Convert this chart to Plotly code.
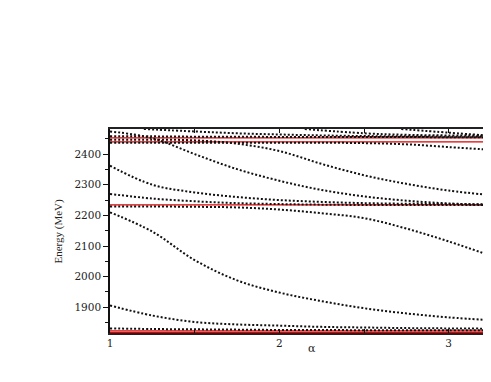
import plotly.graph_objects as go

# alpha grid
alpha = [1.0, 1.25, 1.5, 1.75, 2.0, 2.25, 2.5, 2.75, 3.0, 3.25]

# calculated levels (MeV)
lvl_1 = [1831, 1829, 1828, 1827, 1826, 1826, 1825, 1825, 1825, 1825]
lvl_2 = [1906, 1873, 1852, 1844, 1840, 1836, 1834, 1832, 1831, 1830]
lvl_3 = [2210, 2147, 2054, 1988, 1948, 1920, 1897, 1880, 1867, 1858]
lvl_4 = [2229, 2229, 2228, 2226, 2219, 2207, 2191, 2157, 2115, 2068]
lvl_5 = [2270, 2255, 2246, 2240, 2237, 2235, 2234, 2234, 2234, 2234]
lvl_6 = [2362, 2300, 2275, 2260, 2250, 2244, 2240, 2238, 2237, 2236]
lvl_7 = [2474, 2452, 2400, 2351, 2313, 2283, 2262, 2248, 2239, 2234]
lvl_8 = [2447, 2447, 2445, 2434, 2410, 2368, 2331, 2303, 2281, 2266]
lvl_9 = [2437, 2437, 2437, 2437, 2437, 2437, 2436, 2432, 2423, 2414]
lvl_10 = [2458, 2458, 2457, 2457, 2456, 2456, 2456, 2456, 2455, 2455]

alpha_11 = [1.2, 1.5, 1.75, 2.0, 2.25, 2.5, 2.75, 3.0, 3.25]
lvl_11 = [2482, 2474, 2468, 2464, 2461, 2459, 2458, 2457, 2457]
alpha_12 = [2.15, 2.5, 2.75, 3.0, 3.25]
lvl_12 = [2482, 2468, 2463, 2461, 2460]
alpha_13 = [2.72, 3.0, 3.25]
lvl_13 = [2482, 2470, 2460]

# thresholds (red lines)
thresholds = [1818, 1823, 2234, 2440, 2453]

x_range = [1.0, 3.25]
y_range = [1816, 2482]

fig = go.Figure()

for t in thresholds:
    fig.add_trace(go.Scatter(x=x_range, y=[t, t], mode="lines",
                             line=dict(color="#e00000", width=1.3),
                             showlegend=False, hoverinfo="skip"))

series = [
    (alpha, lvl_1), (alpha, lvl_2), (alpha, lvl_3), (alpha, lvl_4),
    (alpha, lvl_5), (alpha, lvl_6), (alpha, lvl_7), (alpha, lvl_8),
    (alpha, lvl_9), (alpha, lvl_10), (alpha_11, lvl_11),
    (alpha_12, lvl_12), (alpha_13, lvl_13),
]
for xs, ys in series:
    fig.add_trace(go.Scatter(x=xs, y=ys, mode="lines",
                             line=dict(color="#111111", width=2,
                                       dash="2px,2px", shape="spline"),
                             showlegend=False))

tick_font = dict(family="DejaVu Serif, serif", size=10.5, color="#222222")

fig.update_layout(
    width=483, height=374,
    margin=dict(l=102, r=0, t=121, b=49, autoexpand=False),
    paper_bgcolor="white", plot_bgcolor="white",
    showlegend=False,
    xaxis=dict(range=x_range, tick0=1, dtick=1, ticks="inside", ticklen=4,
               tickwidth=1, tickcolor="#111",
               minor=dict(dtick=0.5, ticks="inside", ticklen=4,
                          tickcolor="#111"),
               showline=True, linecolor="#222", linewidth=1.5,
               mirror="ticks", showgrid=False, zeroline=False,
               automargin=False, tickfont=tick_font),
    yaxis=dict(range=y_range, tick0=0, dtick=100, ticks="outside",
               ticklen=5, tickwidth=1, tickcolor="#111",
               minor=dict(dtick=50, ticks="outside", ticklen=3,
                          tickcolor="#111"),
               showline=True, linecolor="#111", linewidth=1.5,
               mirror=False, showgrid=False, zeroline=False,
               automargin=False, tickfont=tick_font),
    annotations=[
        dict(text="Energy (MeV)", x=-0.16, y=0.5, xref="paper",
             yref="paper", showarrow=False, textangle=-90,
             font=dict(family="Liberation Serif, serif", size=11,
                       color="#222")),
        dict(text="α", x=0.53, y=-0.118, xref="paper", yref="paper",
             showarrow=False,
             font=dict(family="DejaVu Serif, serif", size=11,
                       color="#222")),
    ],
)

fig.write_html("out.html")
